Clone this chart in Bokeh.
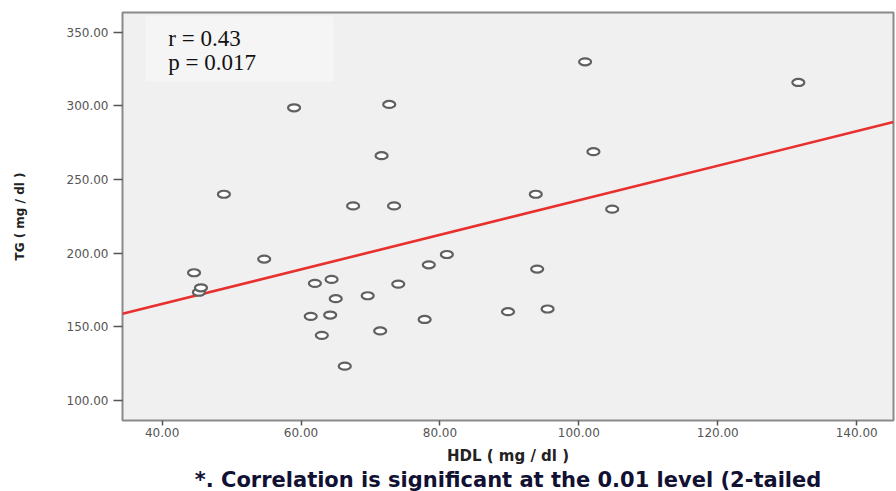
from bokeh.plotting import figure
from bokeh.models import Label, BoxAnnotation, Range1d, FixedTicker, CustomJSTickFormatter
from bokeh.embed import file_html
from bokeh.resources import INLINE
import numpy as np

# ---- data ----
hdl = [44.6, 45.3, 45.6, 48.9, 54.7, 59.0, 62.0, 64.4, 65.0, 61.4, 64.2, 63.0,
       66.3, 67.5, 73.4, 69.6, 71.4, 74.0, 78.4, 81.0, 77.8, 89.8, 72.7, 71.6,
       100.9, 131.6, 102.1, 93.8, 104.8, 94.0, 95.5]
tg = [186.7, 173.5, 176.5, 240.0, 196.0, 298.7, 179.5, 182.2, 169.1, 157.1, 158.0, 144.2,
      123.3, 232.1, 232.1, 171.1, 147.2, 179.0, 192.1, 199.1, 155.0, 160.3, 301.0, 266.2,
      329.9, 315.9, 268.9, 240.0, 229.9, 189.2, 162.1]

fit_intercept = 118.6
fit_slope = 1.173

x_ticks = [40, 60, 80, 100, 120, 140]
y_ticks = [100, 150, 200, 250, 300, 350]

stats_lines = ["r = 0.43", "p = 0.017"]
x_title = "HDL ( mg / dl )"
y_title = "TG ( mg / dl )"
footer = "*. Correlation is significant at the 0.01 level (2-tailed"

x_lo, x_hi = 34.3, 145.3
y_lo, y_hi = 86.4, 363.4

p = figure(output_backend="svg", toolbar_location=None,
           frame_width=771, frame_height=408,
           min_border_left=122, min_border_right=3, min_border_top=12, min_border_bottom=71,
           x_range=Range1d(x_lo, x_hi), y_range=Range1d(y_lo, y_hi),
           background_fill_color="#f0f0f0", border_fill_color="white",
           outline_line_color="#8a8a8a", outline_line_width=2,
           title=footer, title_location="below")

p.title.align = "center"
p.title.vertical_align = "top"
p.title.text_font = "DejaVu Sans"
p.title.text_font_style = "bold"
p.title.text_font_size = "21px"
p.title.text_color = "#111133"
p.title.standoff = 0

p.xgrid.visible = False
p.ygrid.visible = False

fmt = CustomJSTickFormatter(code="return tick.toFixed(2);")
for ax, ticks in ((p.xaxis[0], x_ticks), (p.yaxis[0], y_ticks)):
    ax.ticker = FixedTicker(ticks=ticks)
    ax.formatter = fmt
    ax.axis_line_color = None
    ax.major_tick_line_color = "#555555"
    ax.major_tick_line_width = 1.5
    ax.major_tick_in = 0
    ax.minor_tick_line_color = None
    ax.major_label_text_font = "DejaVu Sans"
    ax.major_label_text_font_size = "12px"
    ax.major_label_text_color = "#555555"
    ax.axis_label_text_font = "DejaVu Sans"
    ax.axis_label_text_font_style = "bold"
    ax.axis_label_text_color = "#222222"

p.xaxis.major_tick_out = 5
p.xaxis.major_label_standoff = 2
p.xaxis.axis_label = x_title
p.xaxis.axis_label_text_font_size = "15px"
p.xaxis.axis_label_standoff = 7

p.yaxis.major_tick_out = 9
p.yaxis.major_label_standoff = 5
p.yaxis.axis_label = y_title
p.yaxis.axis_label_text_font_size = "12px"
p.yaxis.axis_label_standoff = 37

# stats box
p.add_layout(BoxAnnotation(left=37.6, right=64.7, bottom=316.8, top=360.8,
                           fill_color="#f5f5f5", fill_alpha=1, line_color=None,
                           level="underlay"))
for txt, yy in zip(stats_lines, [345.9, 329.6]):
    p.add_layout(Label(x=40.9, y=yy, text=txt, text_font="Liberation Serif",
                       text_font_size="23px", text_color="#111111",
                       text_baseline="middle", text_align="left"))

# regression line
xs = np.array([x_lo, x_hi])
p.line(xs, fit_intercept + fit_slope * xs, line_color="#e8302e", line_width=2.6)

# points
p.ellipse(hdl, tg, width=12, height=7, width_units="screen", height_units="screen",
          fill_color="white", line_color="#606060", line_width=2.2)

open("out.html", "w").write(file_html(p, INLINE))
